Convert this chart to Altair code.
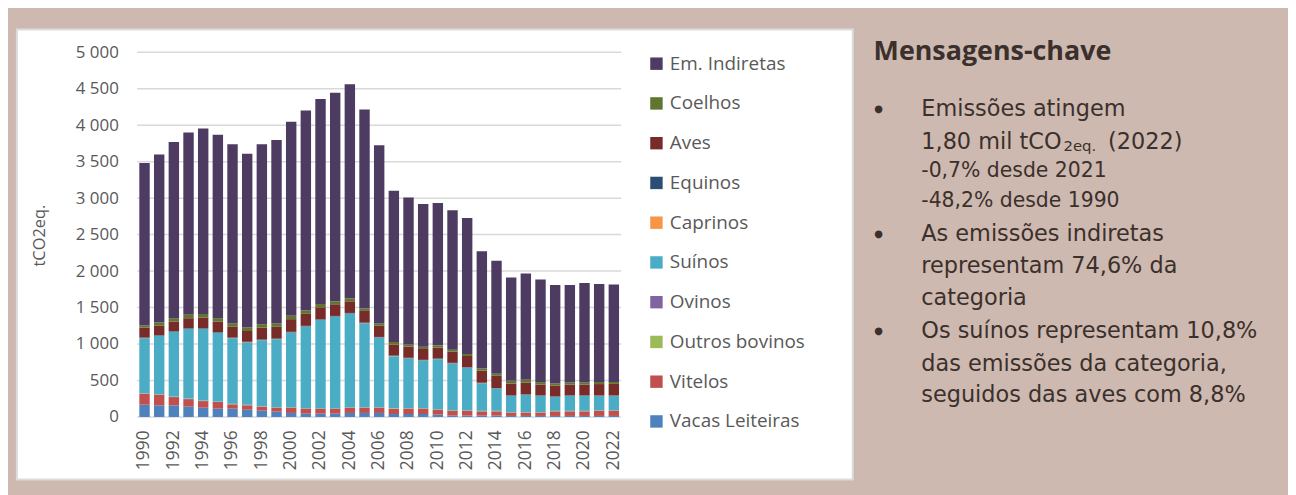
import altair as alt
import pandas as pd

anos = list(range(1990, 2023))
series = ["Vacas Leiteiras", "Vitelos", "Outros bovinos", "Ovinos", "Suínos",
          "Caprinos", "Equinos", "Aves", "Coelhos", "Em. Indiretas"]
cores = ["#4f81bd", "#c0504d", "#9bbb59", "#8064a2", "#4bacc6",
         "#f79646", "#2c4d75", "#772c2a", "#5f7530", "#4d3b62"]

vacas = [168, 159, 159, 141, 127, 114, 114, 100, 86, 73, 55, 45, 45, 45, 55, 55, 55,
         41, 41, 41, 32, 18, 18, 18, 18, 14, 14, 14, 14, 14, 14, 14, 14]
vitelos = [150, 146, 114, 104, 91, 91, 59, 59, 55, 54, 72, 69, 69, 69, 72, 72, 72,
           73, 73, 73, 68, 68, 68, 59, 59, 45, 45, 45, 63, 63, 63, 72, 72]
outros_bovinos = [4] * 33
ovinos = [3] * 33
suinos = [755, 800, 886, 955, 982, 940, 900, 855, 904, 932, 1023, 1118, 1209, 1254, 1282, 1150, 955,
          713, 682, 654, 686, 641, 582, 378, 305, 223, 237, 223, 191, 205, 205, 196, 196]
caprinos = [2] * 33
equinos = [8] * 16 + [6] * 8 + [4] * 9
aves = [137, 128, 133, 137, 147, 147, 146, 146, 165, 160, 174, 165, 164, 160, 160, 160, 153,
        153, 153, 149, 149, 153, 153, 166, 169, 164, 164, 150, 151, 150, 150, 156, 158]
coelhos = [27, 45, 45, 46, 49, 45, 46, 50, 46, 46, 45, 45, 46, 41, 41, 32, 32,
           32, 31, 32, 32, 28, 28, 28, 27, 36, 36, 32, 27, 28, 28, 28, 28]
indiretas = [2226, 2302, 2416, 2500, 2542, 2515, 2455, 2383, 2464, 2515, 2660, 2741, 2810, 2860, 2933, 2728, 2442,
             2074, 2012, 1956, 1952, 1911, 1865, 1607, 1552, 1417, 1457, 1407, 1349, 1335, 1362, 1345, 1335]

y_ticks = [0, 500, 1000, 1500, 2000, 2500, 3000, 3500, 4000, 4500, 5000]
x_labels = [str(a) for a in range(1990, 2023, 2)]

valores = [vacas, vitelos, outros_bovinos, ovinos, suinos, caprinos, equinos, aves, coelhos, indiretas]
rows = []
for k, (nome, vals) in enumerate(zip(series, valores)):
    for ano, v in zip(anos, vals):
        rows.append({"Ano": str(ano), "Série": nome, "Valor": v, "ordem": k})
df = pd.DataFrame(rows)

titulo = "Mensagens-chave"
linhas = [
    ("Emissões atingem", 22.5),
    ("1,80 mil tCO", 22.5),
    ("-0,7% desde 2021", 20.5),
    ("-48,2% desde 1990", 20.5),
    ("As emissões indiretas", 22.5),
    ("representam 74,6% da", 22.5),
    ("categoria", 22.5),
    ("Os suínos representam 10,8%", 22.5),
    ("das emissões da categoria,", 22.5),
    ("seguidos das aves com 8,8%", 22.5),
]

W, H = 487, 367
FONT = "Open Sans"
PFONT = "DejaVu Sans"
AXC = "#595959"
TXT = "#3b302b"

y_axis = alt.Axis(values=y_ticks, grid=False, domain=False, ticks=False,
                  labelPadding=19, labelFont=FONT, labelFontSize=17, labelColor=AXC,
                  labelExpr="replace(format(datum.value, ','), ',', ' ')",
                  title="tCO2eq.", titleFont=FONT, titleFontSize=16.5,
                  titleFontWeight="normal", titleColor=AXC,
                  titleX=-98, titleY=184, titleAngle=270,
                  titleAlign="center", titleBaseline="middle", zindex=1)

painel = alt.Chart(alt.Data(values=[{}])).mark_rect(
    fill="white", stroke="#dcdcdc", strokeWidth=2
).encode(x=alt.value(-121), x2=alt.value(720), y=alt.value(-23), y2=alt.value(430))

grelha = alt.Chart(pd.DataFrame({"Valor": y_ticks})).mark_rule(
    color="#d9d9d9", strokeWidth=1.5
).encode(
    y=alt.Y("Valor:Q", axis=y_axis, scale=alt.Scale(domain=[0, 5000], nice=False)),
    x=alt.value(0), x2=alt.value(W),
)

barras = alt.Chart(df).mark_bar().encode(
    x=alt.X("Ano:O",
            scale=alt.Scale(paddingInner=0.29, paddingOuter=0.145),
            axis=alt.Axis(values=x_labels, labelAngle=270, title=None, ticks=False,
                          domain=False, grid=False, labelPadding=13, labelFont=FONT,
                          labelFontSize=17.5, labelColor=AXC, zindex=1)),
    y=alt.Y("Valor:Q", stack="zero",
            scale=alt.Scale(domain=[0, 5000], nice=False), axis=y_axis),
    color=alt.Color("Série:N",
                    scale=alt.Scale(domain=series[::-1], range=cores[::-1]),
                    legend=alt.Legend(title=None, orient="none", legendX=513, legendY=2,
                                      symbolType="square", symbolSize=156, padding=0,
                                      labelFont=FONT, labelFontSize=19, labelColor=AXC,
                                      labelOffset=4, rowPadding=20, direction="vertical")),
    order=alt.Order("ordem:Q", sort="ascending"),
)

textos = []
textos.append(alt.Chart(alt.Data(values=[{}])).mark_text(
    text=titulo, font=FONT, fontSize=27, fontWeight="bold", color=TXT,
    align="left", baseline="alphabetic"
).encode(x=alt.value(741), y=alt.value(7.3)))

bases = [64, 97.3, 125.7, 155.7, 190, 221.7, 254.7, 287.3, 320.7, 352.3]
for (txt, fs), yb in zip(linhas, bases):
    textos.append(alt.Chart(alt.Data(values=[{}])).mark_text(
        text=txt, font=PFONT, fontSize=fs, color=TXT, align="left", baseline="alphabetic"
    ).encode(x=alt.value(789), y=alt.value(yb)))

# subscript and rest of line 2
textos.append(alt.Chart(alt.Data(values=[{}])).mark_text(
    text="2eq.", font=PFONT, fontSize=15, color=TXT, align="left", baseline="alphabetic"
).encode(x=alt.value(932), y=alt.value(99.8)))
textos.append(alt.Chart(alt.Data(values=[{}])).mark_text(
    text="(2022)", font=PFONT, fontSize=22.5, color=TXT, align="left", baseline="alphabetic"
).encode(x=alt.value(977), y=alt.value(97.3)))

for yb in [64, 190, 287.3]:
    textos.append(alt.Chart(alt.Data(values=[{}])).mark_text(
        text="●", font=PFONT, fontSize=10, color=TXT, align="center", baseline="middle"
    ).encode(x=alt.value(746), y=alt.value(yb - 7)))

chart = alt.layer(painel, grelha, barras, *textos).properties(
    width=W, height=H,
    autosize=alt.AutoSizeParams(type="none"),
    padding={"left": 130, "top": 43, "right": 671, "bottom": 77},
    background="#cdb9b0",
).configure_view(stroke=None)

chart.save("out.html", embed_options={"renderer": "svg", "actions": False})
